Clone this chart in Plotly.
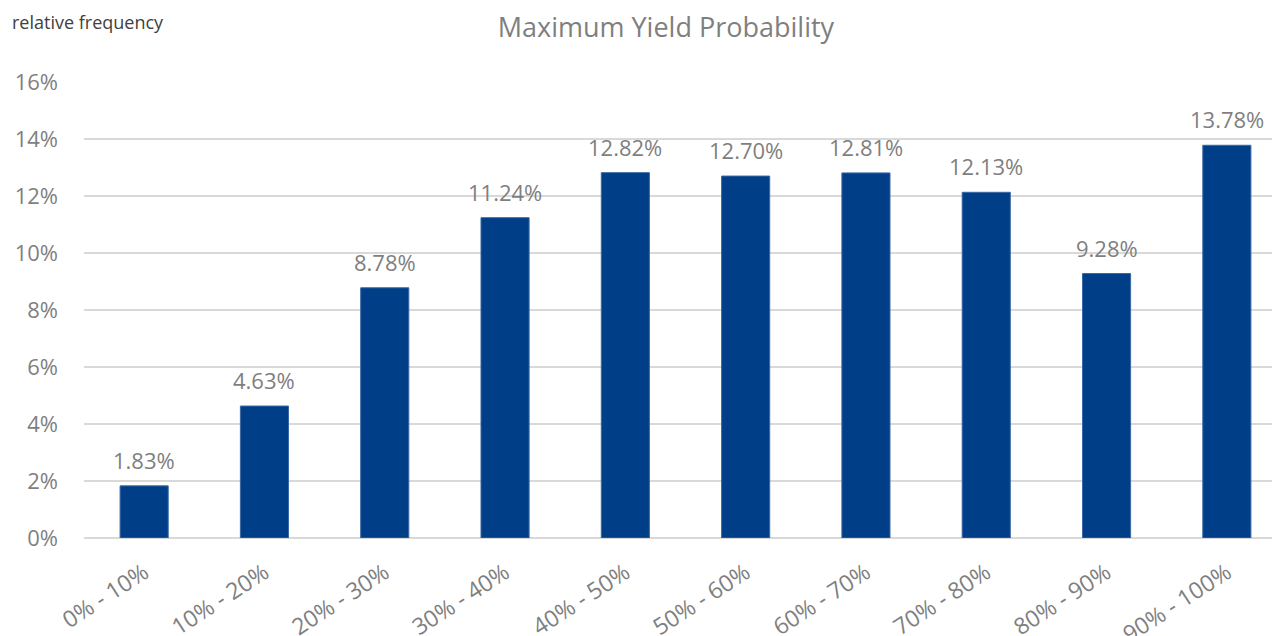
import plotly.graph_objects as go

categories = ["0% - 10%", "10% - 20%", "20% - 30%", "30% - 40%", "40% - 50%",
              "50% - 60%", "60% - 70%", "70% - 80%", "80% - 90%", "90% - 100%"]
frequency = [0.0183, 0.0463, 0.0878, 0.1124, 0.1282, 0.1270, 0.1281, 0.1213, 0.0928, 0.1378]
y_ticks = [0, 0.02, 0.04, 0.06, 0.08, 0.10, 0.12, 0.14, 0.16]

grey = "#7f7f7f"
FONT = "Open Sans"
L, T, B = 76, 74, 106
PW = 1280 - L
PH = 636 - T - B

fig = go.Figure(go.Bar(
    x=categories, y=frequency, width=0.4,
    marker=dict(color="#003f88", line=dict(color="#3b68a6", width=1)),
))
annotations = [dict(text="relative frequency", xref="paper", yref="paper",
                    x=(2 - L) / PW, y=1 + 60 / PH, xanchor="left", yanchor="middle", showarrow=False,
                    font=dict(family=FONT, size=18, color="#404040"))]
for c, v in zip(categories, frequency):
    annotations.append(dict(x=c, y=v, xref="x", yref="y", text=f"{v*100:.2f}%", showarrow=False,
                            yanchor="middle", yshift=26,
                            font=dict(family=FONT, size=22, color=grey)))
fig.update_layout(
    width=1280, height=636,
    margin=dict(l=L, r=0, t=T, b=B),
    plot_bgcolor="white", paper_bgcolor="white",
    showlegend=False,
    title=dict(text="Maximum Yield Probability", x=0.514, xanchor="center", y=0.970, yanchor="middle",
               font=dict(family=FONT, size=27, color=grey)),
    annotations=annotations,
)
fig.update_xaxes(range=[-0.5, -0.5 + PW / 120.3], tickangle=-33, showgrid=False, automargin=False,
                 tickfont=dict(family=FONT, size=23, color=grey), ticks="", showline=False,
                 ticklabelstandoff=16)
fig.update_yaxes(range=[0, 0.16], tickvals=y_ticks, tickformat=".0%", showgrid=True, automargin=False,
                 gridcolor="#d9d9d9", gridwidth=2, zeroline=True, zerolinecolor="#d9d9d9", zerolinewidth=2,
                 tickfont=dict(family=FONT, size=22, color=grey), ticklabelstandoff=25)
fig.write_html("out.html")
